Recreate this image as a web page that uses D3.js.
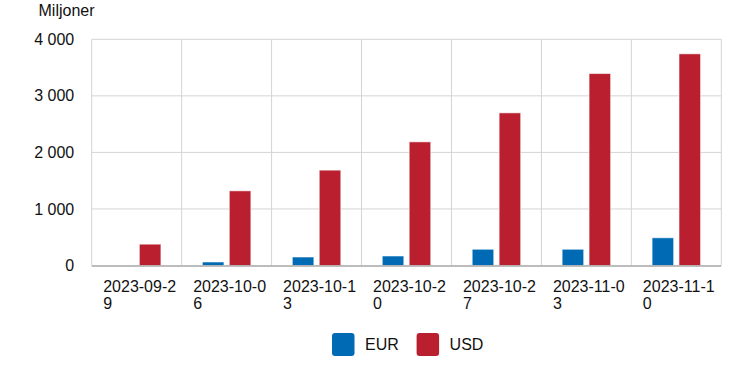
<!DOCTYPE html>
<html>
<head>
<meta charset="utf-8">
<script src="https://cdn.jsdelivr.net/npm/d3@7"></script>
<style>
  body { margin: 0; background: #fff; }
  svg { display: block; font-family: "Liberation Sans", Arial, sans-serif; }
</style>
</head>
<body>
<svg id="chart"></svg>
<script>
// data
const dates = ["2023-09-29", "2023-10-06", "2023-10-13", "2023-10-20", "2023-10-27", "2023-11-03", "2023-11-10"];
const seriesNames = ["EUR", "USD"];
const eurValues = [0, 62, 150, 168, 287, 287, 490];
const usdValues = [377, 1320, 1686, 2186, 2699, 3394, 3743];
const yTicks = [0, 1000, 2000, 3000, 4000];
const colors = ["#006ab4", "#b91f2e"];

const width = 737;
const height = 389;
const margin = { top: 39.3, right: 15.7, bottom: 123.5, left: 91.7 };
const visWidth = width - margin.left - margin.right;
const visHeight = height - margin.top - margin.bottom;

const svg = d3.select("#chart").attr("width", width).attr("height", height);

const g = svg.append("g").attr("transform", `translate(${margin.left},${margin.top})`);

// scales
const x = d3.scaleBand().domain(dates).range([0, visWidth]).padding(0);
const xInner = d3.scaleBand().domain(seriesNames).range([0, x.bandwidth()])
  .paddingInner(0.2).paddingOuter(0.77);
const y = d3.scaleLinear().domain([0, 4000]).range([visHeight, 0]);
const color = d3.scaleOrdinal().domain(seriesNames).range(colors);

const fmt = (d) => d3.format(",")(d).replace(/,/g, " ");

// grid
g.append("g")
  .selectAll("line")
  .data(yTicks.slice(1))
  .join("line")
  .attr("x1", 0)
  .attr("x2", visWidth)
  .attr("y1", (d) => y(d))
  .attr("y2", (d) => y(d))
  .attr("stroke", "#d4d4d4");

g.append("g")
  .selectAll("line")
  .data(d3.range(dates.length + 1))
  .join("line")
  .attr("x1", (i) => i * x.step())
  .attr("x2", (i) => i * x.step())
  .attr("y1", 0)
  .attr("y2", visHeight)
  .attr("stroke", "#d4d4d4");

// y axis labels
g.append("g")
  .call(d3.axisLeft(y).tickValues(yTicks).tickFormat(fmt).tickSize(0).tickPadding(17.5))
  .call((g) => g.select(".domain").remove())
  .call((g) => g.selectAll("text")
    .attr("font-size", 16)
    .attr("font-family", "Liberation Sans, Arial, sans-serif")
    .attr("fill", "#111"));

svg.append("text")
  .attr("x", 38.5)
  .attr("y", 16)
  .attr("font-size", 16)
  .attr("fill", "#111")
  .text("Miljoner");

// bars
const rows = dates.map((d, i) => ({ date: d, values: [eurValues[i], usdValues[i]] }));

g.append("g")
  .selectAll("g")
  .data(rows)
  .join("g")
  .attr("transform", (d) => `translate(${x(d.date)},0)`)
  .selectAll("rect")
  .data((d) => seriesNames.map((s, j) => ({ key: s, value: d.values[j] })).filter((d) => d.value > 0))
  .join("rect")
  .attr("x", (d) => xInner(d.key))
  .attr("width", xInner.bandwidth())
  .attr("y", (d) => y(d.value))
  .attr("height", (d) => y(0) - y(d.value))
  .attr("fill", (d) => color(d.key))
  .attr("stroke", "#fff")
  .attr("stroke-opacity", 0.55)
  .attr("stroke-width", 1);

// baseline
g.append("line")
  .attr("x1", 0)
  .attr("x2", visWidth)
  .attr("y1", y(0) + 0.5)
  .attr("y2", y(0) + 0.5)
  .attr("stroke", "#a6a6a6")
  .attr("stroke-width", 1.5);

// x labels, wrapped after 9 characters like the original
const xLabels = g.append("g")
  .selectAll("text")
  .data(dates)
  .join("text")
  .attr("font-size", 16)
  .attr("fill", "#111")
  .attr("transform", (d) => `translate(${x(d) + 11.5},${visHeight + 26.5})`);

xLabels.append("tspan").attr("x", 0).attr("y", 0).text((d) => d.slice(0, 9));
xLabels.append("tspan").attr("x", 0).attr("y", 16.5).text((d) => d.slice(9));

// legend
const legend = svg.append("g")
  .selectAll("g")
  .data(seriesNames)
  .join("g")
  .attr("transform", (d, i) => `translate(${332 + i * 84.6},333)`);

legend.append("rect")
  .attr("width", 22.5)
  .attr("height", 23)
  .attr("rx", 3)
  .attr("fill", (d) => color(d));

legend.append("text")
  .attr("x", 33)
  .attr("y", 16.5)
  .attr("font-size", 16)
  .attr("fill", "#111")
  .text((d) => d);
</script>
</body>
</html>
